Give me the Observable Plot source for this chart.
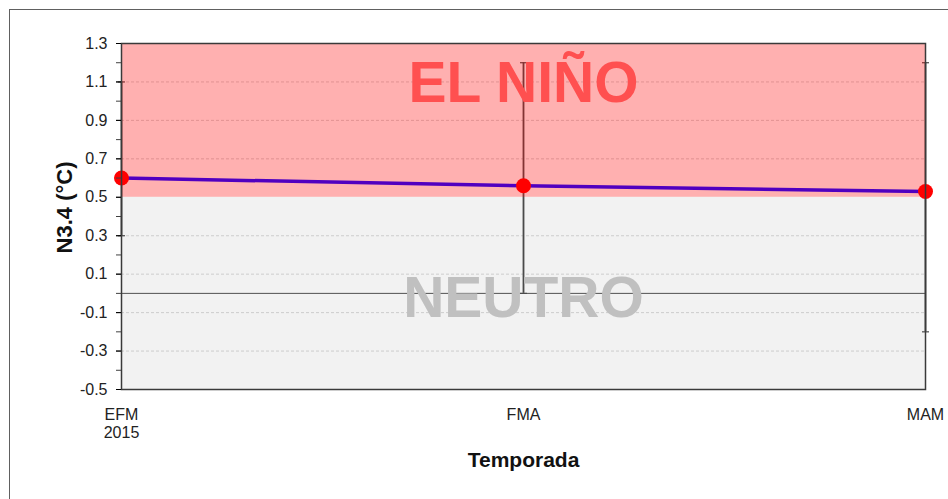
<!DOCTYPE html>
<html>
<head>
<meta charset="utf-8">
<script src="https://cdn.jsdelivr.net/npm/d3@7"></script>
<script src="https://cdn.jsdelivr.net/npm/@observablehq/plot@0.6"></script>
<style>
  html, body { margin: 0; padding: 0; background: #fff; overflow: hidden; }
  #wrap { position: relative; width: 948px; height: 499px; }
  #border { position: absolute; left: 9px; top: 9px; width: 960px; height: 520px; border: 1px solid #606060; pointer-events: none; }
  svg { display: block; }
</style>
</head>
<body>
<div id="wrap"><div id="border"></div></div>
<script>
// Data
const seasons = ["EFM", "FMA", "MAM"];
const seasonLabels = ["EFM\n2015", "FMA", "MAM"];
const n34 = [0.60, 0.56, 0.53];
const errLow = [0.3, 0.0, -0.2];
const errHigh = [1.1, 1.2, 1.2];
const yTicks = [-0.5, -0.3, -0.1, 0.1, 0.3, 0.5, 0.7, 0.9, 1.1, 1.3];
const yMinorTicks = [-0.5, -0.4, -0.3, -0.2, -0.1, 0.0, 0.1, 0.2, 0.3, 0.4, 0.5, 0.6, 0.7, 0.8, 0.9, 1.0, 1.1, 1.2, 1.3];
const gridValues = [-0.3, -0.1, 0.1, 0.3, 0.7, 0.9, 1.1];
const bands = [
  {name: "NEUTRO", y1: -0.5, y2: 0.5, fill: "#f2f2f2"},
  {name: "EL NIÑO", y1: 0.5, y2: 1.3, fill: "#ff0000"}
];
const bandLabels = [
  {text: "EL NIÑO", x: "FMA", y: 1.09, color: "#ff5050"},
  {text: "NEUTRO", x: "FMA", y: -0.03, color: "#c0c0c0"}
];

const data = seasons.map((s, i) => ({season: s, value: n34[i], lo: errLow[i], hi: errHigh[i]}));
const labelMap = Object.fromEntries(seasons.map((s, i) => [s, seasonLabels[i]]));

const font = "'Liberation Sans', Arial, sans-serif";
const capSymbol = {draw(context, size) { const r = 3.5; context.moveTo(-r, 0); context.lineTo(r, 0); }};
const fmt = d => (d < 0 ? "-" : "") + Math.abs(d).toFixed(1);

const chart = Plot.plot({
  width: 948,
  height: 499,
  marginLeft: 121,
  marginRight: 23,
  marginTop: 43,
  marginBottom: 110,
  style: {fontFamily: font, background: "transparent", overflow: "visible"},
  x: {type: "point", domain: seasons, padding: 0},
  y: {domain: [-0.5, 1.3]},
  marks: [
    // grey neutral band
    Plot.rectY([bands[0]], {y1: "y1", y2: "y2", fill: "fill"}),
    // grid
    Plot.ruleY(gridValues, {stroke: "#b0b0b0", strokeDasharray: "3,2", strokeWidth: 0.8, strokeOpacity: 0.7}),
    Plot.ruleY([0], {stroke: "#505050", strokeWidth: 1}),
    // error bars
    Plot.ruleX(data, {x: "season", y1: "lo", y2: "hi", stroke: "#4a4a4a", strokeWidth: 1.8}),
    Plot.dot(data, {x: "season", y: "lo", symbol: capSymbol, stroke: "#4a4a4a", strokeWidth: 1.2, r: 3}),
    Plot.dot(data, {x: "season", y: "hi", symbol: capSymbol, stroke: "#4a4a4a", strokeWidth: 1.2, r: 3}),
    // pink El Niño band (translucent over)
    Plot.rectY([bands[1]], {y1: "y1", y2: "y2", fill: "fill", fillOpacity: 0.31}),
    // band labels
    Plot.text(bandLabels, {x: "x", y: "y", text: "text", fill: "color", fontSize: 57, fontWeight: "bold", textAnchor: "middle"}),
    // series
    Plot.line(data, {x: "season", y: "value", stroke: "#5000c0", strokeWidth: 3.5}),
    Plot.dot(data, {x: "season", y: "value", r: 7.5, fill: "#ff0000", stroke: "none"}),
    // frame
    Plot.frame({stroke: "#3a3a3a", strokeWidth: 1.5}),
    // axes
    Plot.axisY(yMinorTicks, {anchor: "left", tickSize: 5, text: null, stroke: "#404040", label: null}),
    Plot.axisY(yTicks, {anchor: "left", tickSize: 5, tickPadding: 9, tickFormat: fmt, fontSize: 16, fill: "#222", label: null}),
    Plot.axisX({tickSize: 0, tickPadding: 17, tickFormat: d => labelMap[d], fontSize: 16, lineHeight: 1.15, fill: "#222", label: null}),
    // axis titles
    Plot.text(["N3.4 (°C)"], {frameAnchor: "left", dx: -57, dy: -9, rotate: -90, fontSize: 22, fontWeight: "bold", fill: "#111", textAnchor: "middle"}),
    Plot.text(["Temporada"], {frameAnchor: "bottom", dy: 77, fontSize: 21, fontWeight: "bold", fill: "#111", textAnchor: "middle"})
  ]
});
document.getElementById("wrap").prepend(chart);
</script>
</body>
</html>
